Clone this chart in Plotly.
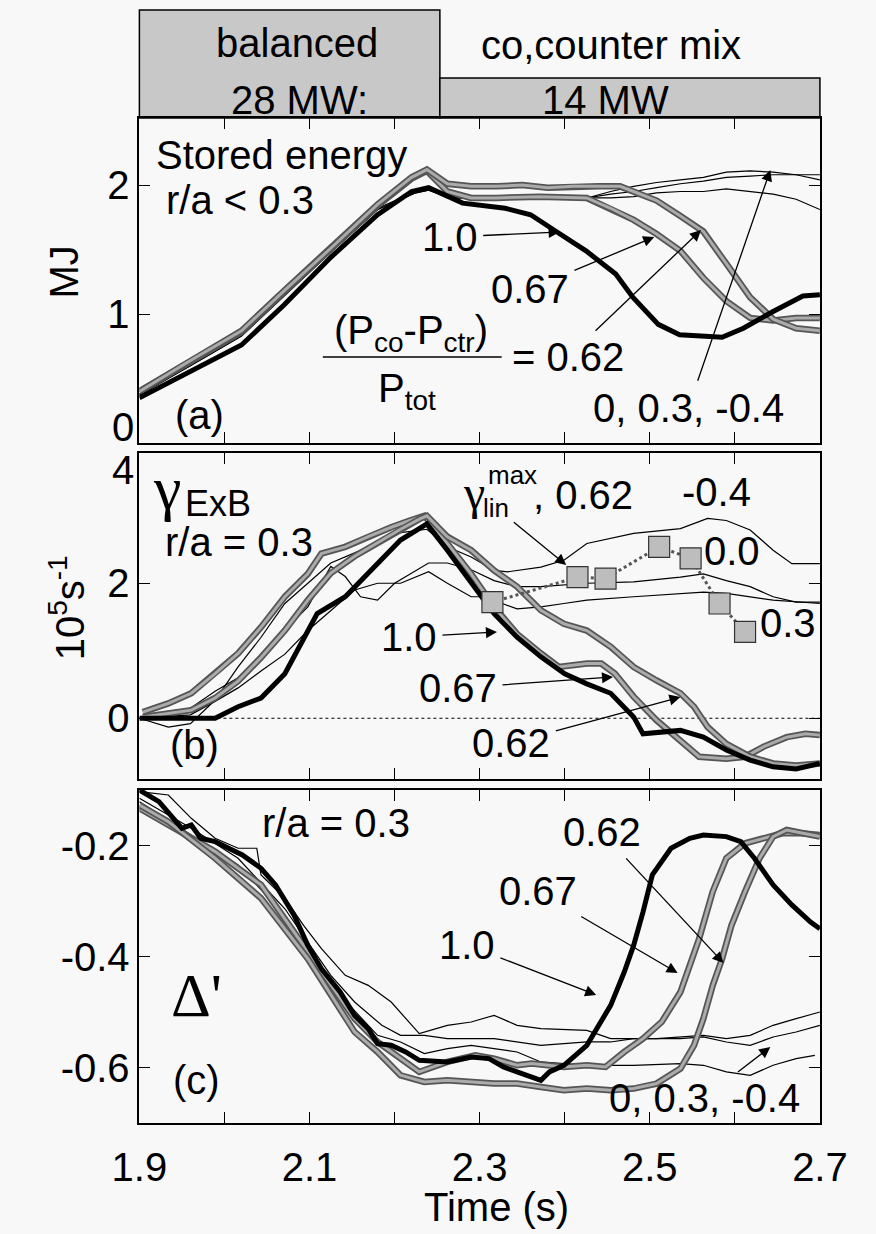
import plotly.graph_objects as go

W, H = 876, 1234
FONT = "Liberation Sans, Arial, Helvetica, sans-serif"
SERIF = "Liberation Serif, Times New Roman, serif"
BG = "#f8f8f8"

# ---------------- Panel (a): stored energy (MJ) ----------------
a_t_10 = [1.90, 1.96, 2.02, 2.07, 2.125, 2.18, 2.22, 2.24, 2.28, 2.33, 2.36, 2.39, 2.425,
          2.46, 2.48, 2.51, 2.535, 2.585, 2.61, 2.645, 2.68, 2.70]
a_v_10 = [0.35, 0.56, 0.76, 1.07, 1.44, 1.77, 1.95, 1.98, 1.86, 1.82, 1.77, 1.64, 1.49,
          1.31, 1.13, 0.92, 0.84, 0.82, 0.89, 1.02, 1.14, 1.15]

a_t_067 = [1.90, 1.96, 2.02, 2.07, 2.125, 2.18, 2.22, 2.238, 2.262, 2.29, 2.32, 2.37, 2.426,
           2.454, 2.481, 2.508, 2.536, 2.563, 2.59, 2.618, 2.645, 2.672, 2.70]
a_v_067 = [0.40, 0.63, 0.86, 1.17, 1.50, 1.84, 2.05, 2.11, 1.95, 1.90, 1.90, 1.91, 1.90,
           1.82, 1.73, 1.62, 1.49, 1.28, 1.10, 0.97, 0.95, 0.97, 0.97]

a_t_062 = [1.90, 1.96, 2.02, 2.07, 2.125, 2.18, 2.22, 2.238, 2.262, 2.29, 2.32, 2.35, 2.38,
           2.41, 2.44, 2.465, 2.481, 2.508, 2.536, 2.563, 2.59, 2.618, 2.645, 2.672, 2.70]
a_v_062 = [0.40, 0.64, 0.87, 1.18, 1.51, 1.85, 2.06, 2.12, 2.01, 1.99, 1.99, 2.00, 1.98,
           1.99, 1.99, 1.99, 1.95, 1.88, 1.76, 1.64, 1.39, 1.13, 0.96, 0.89, 0.87]

a_t_thin = [1.90, 1.96, 2.02, 2.07, 2.125, 2.18, 2.225, 2.24, 2.262, 2.317, 2.372, 2.426,
            2.454, 2.481, 2.508, 2.536, 2.563, 2.59, 2.618, 2.645, 2.672, 2.70]
a_v_thin0 = [0.38, 0.61, 0.84, 1.15, 1.49, 1.82, 1.95, 1.97, 1.90, 1.89, 1.89, 1.90,
             1.95, 1.99, 2.02, 2.04, 2.06, 2.10, 2.11, 2.10, 2.08, 2.08]
a_v_thin3 = [0.38, 0.60, 0.83, 1.14, 1.48, 1.81, 1.94, 1.96, 1.91, 1.90, 1.90, 1.90,
             1.93, 1.95, 1.98, 2.01, 2.03, 2.06, 2.07, 2.08, 2.08, 2.04]
a_v_thinm4 = [0.37, 0.60, 0.83, 1.14, 1.48, 1.81, 1.94, 1.96, 1.91, 1.90, 1.90, 1.90,
              1.90, 1.91, 1.94, 1.95, 1.95, 1.97, 1.95, 1.93, 1.89, 1.81]

# ---------------- Panel (b): gamma ExB (1e5 s^-1) ----------------
b_t_10 = [1.90, 1.989, 2.016, 2.043, 2.071, 2.109, 2.142, 2.18, 2.207, 2.229, 2.238, 2.262,
          2.29, 2.317, 2.344, 2.372, 2.40, 2.426, 2.454, 2.481, 2.492, 2.514, 2.536, 2.563,
          2.59, 2.618, 2.645, 2.672, 2.70]
b_v_10 = [0.0, 0.0, 0.17, 0.30, 0.66, 1.55, 1.80, 2.29, 2.64, 2.81, 2.88, 2.49,
          2.00, 1.55, 1.20, 0.91, 0.66, 0.51, 0.37, 0.02, -0.23, -0.20, -0.18, -0.28,
          -0.47, -0.62, -0.72, -0.75, -0.67]

b_t_067 = [1.904, 1.934, 1.961, 1.989, 2.016, 2.043, 2.071, 2.098, 2.114, 2.142, 2.169, 2.196,
           2.218, 2.235, 2.262, 2.29, 2.317, 2.344, 2.372, 2.393, 2.426, 2.443, 2.459, 2.481,
           2.508, 2.536, 2.558, 2.59, 2.612, 2.634, 2.661, 2.683, 2.70]
b_v_067 = [0.09, 0.22, 0.37, 0.66, 0.96, 1.35, 1.80, 2.14, 2.44, 2.54, 2.69, 2.83,
           2.93, 3.00, 2.59, 2.14, 1.65, 1.25, 0.96, 0.76, 0.81, 0.81, 0.66, 0.32,
           -0.03, -0.33, -0.57, -0.60, -0.57, -0.42, -0.28, -0.23, -0.25]

b_t_062 = [1.904, 1.961, 1.989, 2.016, 2.043, 2.071, 2.098, 2.125, 2.153, 2.18, 2.207, 2.229,
           2.238, 2.262, 2.29, 2.317, 2.344, 2.372, 2.399, 2.426, 2.454, 2.481, 2.508, 2.536,
           2.552, 2.568, 2.59, 2.618, 2.645, 2.672, 2.70]
b_v_062 = [0.02, 0.12, 0.30, 0.55, 0.90, 1.30, 1.75, 2.15, 2.40, 2.60, 2.80, 2.95,
           3.00, 2.69, 2.49, 2.19, 1.95, 1.60, 1.40, 1.30, 1.06, 0.76, 0.56, 0.37,
           0.17, -0.13, -0.38, -0.57, -0.67, -0.70, -0.67]

b_t_thinm4 = [1.90, 1.934, 1.96, 1.989, 2.016, 2.043, 2.071, 2.098, 2.125, 2.153, 2.18, 2.207,
              2.238, 2.262, 2.29, 2.317, 2.333, 2.372, 2.399, 2.426, 2.481, 2.536, 2.568, 2.59,
              2.618, 2.645, 2.667, 2.70]
b_v_thinm4 = [0.0, -0.13, -0.08, 0.27, 0.76, 1.20, 1.70, 2.00, 2.30, 2.45, 2.60, 2.75,
              2.80, 2.54, 2.39, 2.19, 2.17, 2.24, 2.34, 2.59, 2.74, 2.81, 2.96, 2.93,
              2.79, 2.49, 2.29, 2.29]

b_t_thin0 = [1.90, 1.96, 1.989, 2.016, 2.043, 2.071, 2.098, 2.125, 2.142, 2.16, 2.18, 2.20,
             2.24, 2.262, 2.29, 2.317, 2.344, 2.372, 2.426, 2.481, 2.508, 2.536, 2.563, 2.59,
             2.618, 2.645, 2.672, 2.70]
b_v_thin0 = [0.0, 0.15, 0.40, 0.60, 0.95, 1.30, 1.65, 2.25, 2.10, 1.80, 1.75, 2.00,
             2.30, 2.30, 2.20, 2.04, 1.95, 1.95, 2.00, 2.02, 2.05, 2.09, 2.14, 2.04,
             1.95, 1.80, 1.72, 1.72]

b_t_thin3 = [1.90, 1.96, 1.989, 2.016, 2.043, 2.071, 2.098, 2.125, 2.153, 2.18, 2.207, 2.24,
             2.262, 2.29, 2.305, 2.344, 2.372, 2.399, 2.426, 2.481, 2.536, 2.563, 2.59, 2.645,
             2.70]
b_v_thin3 = [0.0, 0.05, 0.25, 0.45, 0.70, 0.95, 1.30, 1.60, 1.90, 2.00, 2.00, 2.17,
             2.00, 1.80, 1.80, 1.62, 1.65, 1.70, 1.75, 1.80, 1.85, 1.87, 1.85, 1.75,
             1.70]

b_t_lin = [2.315, 2.415, 2.448, 2.511, 2.548, 2.582, 2.612]
b_v_lin = [1.72, 2.09, 2.07, 2.54, 2.37, 1.70, 1.28]

# ---------------- Panel (c): Delta' ----------------
c_t_10 = [1.90, 1.923, 1.950, 1.961, 1.972, 1.989, 2.005, 2.021, 2.043, 2.060, 2.082, 2.098,
          2.114, 2.136, 2.153, 2.169, 2.180, 2.196, 2.213, 2.229, 2.262, 2.290, 2.311, 2.328,
          2.344, 2.372, 2.382, 2.399, 2.426, 2.454, 2.470, 2.481, 2.492, 2.503, 2.525, 2.547,
          2.563, 2.590, 2.607, 2.623, 2.645, 2.667, 2.689, 2.700]
c_v_10 = [-0.100, -0.121, -0.169, -0.163, -0.187, -0.193, -0.205, -0.217, -0.241, -0.271, -0.326, -0.380,
          -0.422, -0.464, -0.506, -0.530, -0.557, -0.560, -0.572, -0.587, -0.590, -0.581, -0.584, -0.599,
          -0.608, -0.623, -0.608, -0.596, -0.560, -0.488, -0.428, -0.380, -0.320, -0.253, -0.205, -0.187,
          -0.181, -0.184, -0.193, -0.223, -0.271, -0.307, -0.338, -0.350]

c_t_067 = [1.90, 1.934, 1.989, 2.043, 2.098, 2.153, 2.18, 2.207, 2.229, 2.262, 2.295, 2.317,
           2.344, 2.361, 2.399, 2.426, 2.448, 2.470, 2.492, 2.514, 2.536, 2.547, 2.558, 2.574,
           2.590, 2.612, 2.634, 2.656, 2.678, 2.70]
c_v_067 = [-0.133, -0.163, -0.211, -0.271, -0.392, -0.512, -0.554, -0.584, -0.608, -0.590, -0.578, -0.584,
           -0.596, -0.593, -0.599, -0.596, -0.599, -0.572, -0.548, -0.518, -0.464, -0.416, -0.368, -0.283,
           -0.223, -0.196, -0.187, -0.178, -0.178, -0.181]

c_t_062 = [1.90, 1.934, 1.989, 2.043, 2.098, 2.153, 2.18, 2.207, 2.235, 2.262, 2.317, 2.344,
           2.372, 2.399, 2.426, 2.454, 2.481, 2.508, 2.536, 2.552, 2.563, 2.574, 2.585, 2.596,
           2.612, 2.629, 2.645, 2.661, 2.70]
c_v_062 = [-0.127, -0.157, -0.223, -0.295, -0.404, -0.536, -0.572, -0.614, -0.626, -0.623, -0.629, -0.629,
           -0.635, -0.641, -0.638, -0.641, -0.638, -0.629, -0.602, -0.560, -0.512, -0.452, -0.404, -0.344,
           -0.283, -0.223, -0.184, -0.172, -0.184]

c_t_thinA = [1.90, 1.934, 1.961, 1.989, 2.016, 2.038, 2.043, 2.071, 2.093, 2.114, 2.142, 2.169,
             2.196, 2.229, 2.262, 2.290, 2.317, 2.344, 2.372, 2.426, 2.454, 2.508, 2.563, 2.590,
             2.618, 2.645, 2.672, 2.700]
c_v_thinA = [-0.103, -0.109, -0.151, -0.187, -0.205, -0.205, -0.253, -0.295, -0.344, -0.386, -0.434, -0.452,
             -0.482, -0.539, -0.524, -0.518, -0.506, -0.524, -0.530, -0.533, -0.548, -0.548, -0.542, -0.548,
             -0.542, -0.524, -0.512, -0.500]

c_t_thinB = [1.90, 1.961, 2.016, 2.071, 2.125, 2.153, 2.185, 2.207, 2.235, 2.262, 2.317, 2.344,
             2.372, 2.426, 2.454, 2.481, 2.536, 2.563, 2.590, 2.618, 2.645, 2.672, 2.700]
c_v_thinB = [-0.115, -0.169, -0.223, -0.314, -0.434, -0.482, -0.524, -0.542, -0.542, -0.548, -0.548, -0.554,
             -0.560, -0.554, -0.554, -0.548, -0.548, -0.545, -0.554, -0.560, -0.545, -0.536, -0.524]

c_t_thinC = [1.90, 1.961, 2.016, 2.071, 2.125, 2.180, 2.207, 2.235, 2.262, 2.290, 2.317, 2.344,
             2.372, 2.426, 2.481, 2.536, 2.563, 2.590, 2.618, 2.645, 2.672, 2.694]
c_v_thinC = [-0.121, -0.181, -0.235, -0.326, -0.452, -0.542, -0.554, -0.575, -0.566, -0.560, -0.566, -0.572,
             -0.590, -0.596, -0.596, -0.593, -0.596, -0.608, -0.614, -0.596, -0.584, -0.578]

# axis settings (values)
x_range = [1.9, 2.7]
x_ticks = [1.9, 2.1, 2.3, 2.5, 2.7]
x_minor = [2.0, 2.2, 2.4, 2.6]
x_all = [1.9, 2.0, 2.1, 2.2, 2.3, 2.4, 2.5, 2.6, 2.7]
a_range = [0, 2.52]
a_ticks = [1, 2]
b_range = [-0.9, 3.93]
b_ticks = [0, 2]
c_range = [-0.70, -0.10]
c_ticks = [-0.6, -0.4, -0.2]
c_ticktext = ["-0.6", "-0.4", "-0.2"]

# ---------------- figure ----------------
def px2paper(px, py):
    return px / W, 1 - py / H

fig = go.Figure()

THIN = dict(color="black", width=1.2)
BLACK = dict(color="black", width=5)


def add_gray(t, v, xa, ya):
    fig.add_trace(go.Scatter(x=t, y=v, xaxis=xa, yaxis=ya, mode="lines",
                             line=dict(color="#555555", width=6.5), showlegend=False, hoverinfo="skip"))
    fig.add_trace(go.Scatter(x=t, y=v, xaxis=xa, yaxis=ya, mode="lines",
                             line=dict(color="#ababab", width=3), showlegend=False, hoverinfo="skip"))


def add_thin(t, v, xa, ya):
    fig.add_trace(go.Scatter(x=t, y=v, xaxis=xa, yaxis=ya, mode="lines",
                             line=THIN, showlegend=False, hoverinfo="skip"))


def add_black(t, v, xa, ya):
    fig.add_trace(go.Scatter(x=t, y=v, xaxis=xa, yaxis=ya, mode="lines",
                             line=BLACK, showlegend=False, hoverinfo="skip"))

# panel a
for vv in (a_v_thin0, a_v_thin3, a_v_thinm4):
    add_thin(a_t_thin, vv, "x", "y")
add_gray(a_t_067, a_v_067, "x", "y")
add_gray(a_t_062, a_v_062, "x", "y")
add_black(a_t_10, a_v_10, "x", "y")

# panel b
fig.add_trace(go.Scatter(x=x_range, y=[0, 0], xaxis="x2", yaxis="y2", mode="lines",
                         line=dict(color="black", width=1, dash="dot"), showlegend=False, hoverinfo="skip"))
add_thin(b_t_thinm4, b_v_thinm4, "x2", "y2")
add_thin(b_t_thin0, b_v_thin0, "x2", "y2")
add_thin(b_t_thin3, b_v_thin3, "x2", "y2")
add_gray(b_t_067, b_v_067, "x2", "y2")
add_gray(b_t_062, b_v_062, "x2", "y2")
add_black(b_t_10, b_v_10, "x2", "y2")
fig.add_trace(go.Scatter(x=b_t_lin, y=b_v_lin, xaxis="x2", yaxis="y2", mode="lines+markers",
                         line=dict(color="#555555", width=3, dash="dot"),
                         marker=dict(symbol="square", size=21, color="#bdbdbd",
                                     line=dict(color="#333333", width=1.2)),
                         showlegend=False, hoverinfo="skip"))

# panel c
add_thin(c_t_thinA, c_v_thinA, "x3", "y3")
add_thin(c_t_thinB, c_v_thinB, "x3", "y3")
add_thin(c_t_thinC, c_v_thinC, "x3", "y3")
add_gray(c_t_067, c_v_067, "x3", "y3")
add_gray(c_t_062, c_v_062, "x3", "y3")
add_black(c_t_10, c_v_10, "x3", "y3")

# ---------------- layout / axes ----------------
XL, XR = 119, 846
dom_x = [XL / W, XR / W]


def ydom(top, bot):
    return [1 - bot / H, 1 - top / H]

tickfont = dict(family=FONT, size=40, color="black")
base_x = dict(range=x_range, ticks="inside", ticklen=11, tickwidth=1.3,
              tickcolor="black", showline=True, linecolor="black", linewidth=1.6,
              mirror="ticks", showgrid=False, zeroline=False, domain=dom_x, fixedrange=True)
# upper panels: unlabelled ticks only (drawn as minor ticks, so no empty tick texts)
upper_x = dict(base_x, tickmode="array", tickvals=[], showticklabels=False,
               minor=dict(tickmode="array", tickvals=x_all, ticks="inside", ticklen=11,
                          tickwidth=1.3, tickcolor="black"))
lower_x = dict(base_x, tickmode="array", tickvals=x_ticks, tickfont=tickfont, ticklabelstandoff=8,
               minor=dict(tickmode="array", tickvals=x_minor, ticks="inside", ticklen=11,
                          tickwidth=1.3, tickcolor="black"))
common_y = dict(ticks="inside", ticklen=11, tickwidth=1.3, tickcolor="black", showline=True,
                linecolor="black", linewidth=1.6, mirror="ticks", showgrid=False,
                zeroline=False, tickfont=tickfont, fixedrange=True, tickmode="array")

fig.update_layout(
    width=W, height=H,
    margin=dict(l=0, r=0, t=0, b=0, pad=0),
    paper_bgcolor=BG, plot_bgcolor=BG,
    showlegend=False,
    xaxis=dict(upper_x, anchor="y"),
    xaxis2=dict(upper_x, anchor="y2"),
    xaxis3=dict(lower_x, anchor="y3"),
    yaxis=dict(common_y, anchor="x", domain=ydom(118, 443), range=a_range, tickvals=a_ticks),
    yaxis2=dict(common_y, anchor="x2", domain=ydom(453, 779), range=b_range, tickvals=b_ticks),
    yaxis3=dict(common_y, anchor="x3", domain=ydom(790, 1123), range=c_range,
                tickvals=c_ticks, ticktext=c_ticktext),
)

# ---------------- header boxes ----------------
def rect(x0, y0, x1, y1, fill):
    p0 = px2paper(x0, y0)
    p1 = px2paper(x1, y1)
    fig.add_shape(type="rect", xref="paper", yref="paper", x0=p0[0], y0=p1[1], x1=p1[0], y1=p0[1],
                  fillcolor=fill, line=dict(color="black", width=1.5), layer="below")

rect(XL, 10, 440, 118, "#c8c8c8")
rect(440, 78, XR, 118, "#c8c8c8")

# fraction bar
p0 = px2paper(315, 357)
p1 = px2paper(506, 357)
fig.add_shape(type="line", xref="paper", yref="paper", x0=p0[0], y0=p0[1], x1=p1[0], y1=p1[1],
              line=dict(color="black", width=1.6))


def txt(px, py, s, size=40, xanchor="center", family=FONT, angle=0):
    x, y = px2paper(px, py)
    fig.add_annotation(x=x, y=y, xref="paper", yref="paper", text=s, showarrow=False,
                       font=dict(size=size, family=family, color="black"),
                       xanchor=xanchor, yanchor="middle", textangle=angle)


def label_arrow(center, tip, s, size=40):
    """Text centred at `center` with an arrow running to `tip` (pixel positions)."""
    x, y = px2paper(*tip)
    fig.add_annotation(x=x, y=y, xref="paper", yref="paper", ax=center[0] - tip[0],
                       ay=center[1] - tip[1], axref="pixel", ayref="pixel", text=s,
                       font=dict(size=size, family=FONT, color="black"),
                       showarrow=True, arrowhead=2, arrowsize=1.7, arrowwidth=1.3,
                       arrowcolor="black", standoff=0, startstandoff=4)

# header text
txt(287, 43, "balanced")
txt(290, 100, "28 MW:")
txt(623, 45, "co,counter mix")
txt(617, 100, "14 MW")

# panel a texts
txt(135, 155, "Stored energy", xanchor="left")
txt(226, 200, "r/a &lt; 0.3")
label_arrow((458, 237), (568, 232), "1.0")
label_arrow((545, 289), (669, 237), "0.67")
txt(409, 333, "(P<sub>co</sub>-P<sub>ctr</sub>)")
txt(405, 391, "P<sub>tot</sub>")
label_arrow((586, 357), (719, 230), "= 0.62")
label_arrow((711, 408), (793, 170), "0, 0.3, -0.4")
txt(183, 415, "(a)")

# panel b texts
txt(148, 488, "γ", size=62, family=SERIF)
txt(166, 503, "ExB", size=36, xanchor="left")
txt(225, 542, "r/a = 0.3")
txt(476, 492, "γ", size=48, family=SERIF)
txt(489, 475, "max", size=26, xanchor="left")
label_arrow((505, 508), (575, 565), "lin", size=26)
txt(537, 495, ", 0.62", xanchor="left")
txt(736, 492, "-0.4")
txt(752, 551, "0.0")
txt(812, 623, "0.3")
label_arrow((413, 637), (501, 632), "1.0")
label_arrow((470, 688), (625, 677), "0.67")
label_arrow((528, 743), (697, 697), "0.62")
txt(178, 745, "(b)")

# panel c texts
txt(329, 823, "r/a = 0.3")
txt(180, 995, "Δ'", size=62, family=SERIF)
txt(180, 1080, "(c)")
label_arrow((621, 832), (743, 963), "0.62")
label_arrow((554, 891), (694, 973), "0.67")
label_arrow((478, 945), (607, 995), "1.0")
label_arrow((727, 1098), (793, 1047), "0, 0.3, -0.4")

# axis titles and shifted end tick labels
txt(38, 272, "MJ", angle=-90)
txt(42, 608, "10<sup>5</sup>s<sup>-1</sup>", angle=-90)
txt(501, 1207, "Time (s)")
txt(101, 427, "0")
txt(101, 470, "4")

fig.write_html("out.html")
